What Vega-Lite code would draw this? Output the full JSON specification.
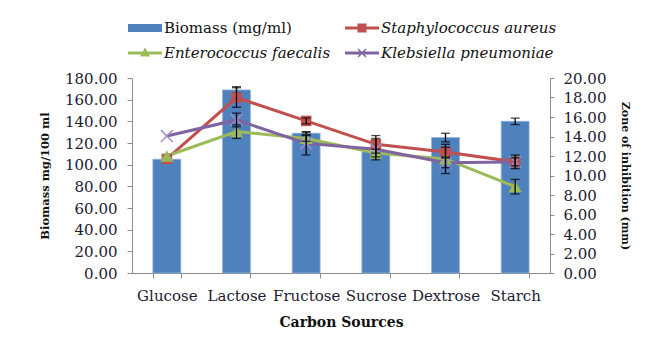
{
  "$schema": "https://vega.github.io/schema/vega-lite/v6.json",
  "width": 418,
  "height": 195,
  "autosize": {"type": "none"},
  "padding": {"left": 132, "top": 78, "right": 107, "bottom": 74},
  "background": "white",
  "config": {
    "view": {"stroke": null},
    "font": "DejaVu Serif",
    "axis": {"labelFont": "DejaVu Serif", "titleFont": "DejaVu Serif", "domainColor": "#8c8c8c", "tickColor": "#8c8c8c", "grid": false, "labelColor": "#1b1b2f", "titleColor": "#111111"}
  },
  "datasets": {
    "bio": [
      {"source": "Glucose", "biomass": 105, "err": 0},
      {"source": "Lactose", "biomass": 169, "err": 3},
      {"source": "Fructose", "biomass": 129, "err": 1},
      {"source": "Sucrose", "biomass": 112, "err": 3},
      {"source": "Dextrose", "biomass": 125, "err": 4},
      {"source": "Starch", "biomass": 140, "err": 3}
    ],
    "zone": [
      {"source": "Glucose", "series": "Staphylococcus aureus", "zone": 11.7, "err": 0},
      {"source": "Lactose", "series": "Staphylococcus aureus", "zone": 18.0, "err": 1.0},
      {"source": "Fructose", "series": "Staphylococcus aureus", "zone": 15.6, "err": 0.3},
      {"source": "Sucrose", "series": "Staphylococcus aureus", "zone": 13.2, "err": 0.9},
      {"source": "Dextrose", "series": "Staphylococcus aureus", "zone": 12.4, "err": 0.5},
      {"source": "Starch", "series": "Staphylococcus aureus", "zone": 11.4, "err": 0.7},
      {"source": "Glucose", "series": "Enterococcus faecalis", "zone": 12.0, "err": 0},
      {"source": "Lactose", "series": "Enterococcus faecalis", "zone": 14.5, "err": 0.7},
      {"source": "Fructose", "series": "Enterococcus faecalis", "zone": 13.8, "err": 0.3},
      {"source": "Sucrose", "series": "Enterococcus faecalis", "zone": 12.3, "err": 0.4},
      {"source": "Dextrose", "series": "Enterococcus faecalis", "zone": 11.7, "err": 1.5},
      {"source": "Starch", "series": "Enterococcus faecalis", "zone": 8.85, "err": 0.75},
      {"source": "Glucose", "series": "Klebsiella pneumoniae", "zone": 14.05, "err": 0},
      {"source": "Lactose", "series": "Klebsiella pneumoniae", "zone": 15.7, "err": 0.7},
      {"source": "Fructose", "series": "Klebsiella pneumoniae", "zone": 13.3, "err": 1.2},
      {"source": "Sucrose", "series": "Klebsiella pneumoniae", "zone": 12.7, "err": 1.1},
      {"source": "Dextrose", "series": "Klebsiella pneumoniae", "zone": 11.3, "err": 0.5},
      {"source": "Starch", "series": "Klebsiella pneumoniae", "zone": 11.4, "err": 0.4}
    ]
  },
  "encoding": {
    "x": {
      "field": "source", "type": "nominal",
      "sort": ["Glucose", "Lactose", "Fructose", "Sucrose", "Dextrose", "Starch"],
      "scale": {"paddingInner": 0.6, "paddingOuter": 0.3},
      "axis": {"title": "Carbon Sources", "labelAngle": 0, "tickBand": "extent", "labelFontSize": 15, "titleFontSize": 14, "titleFontWeight": "bold", "tickSize": 5, "labelPadding": 10, "titlePadding": 12}
    }
  },
  "layer": [
    {
      "data": {"name": "bio"},
      "encoding": {
        "y": {
          "field": "biomass", "type": "quantitative",
          "scale": {"domain": [0, 180]},
          "axis": {"orient": "left", "title": "Biomass mg/100 ml", "values": [0, 20, 40, 60, 80, 100, 120, 140, 160, 180], "format": ".2f", "labelFontSize": 15, "titleFontSize": 11.5, "titleFontWeight": "bold", "tickSize": 5, "labelPadding": 10, "titlePadding": 14}
        }
      },
      "layer": [
        {
          "mark": {"type": "bar", "color": "#4F81BD", "stroke": "#8fb0d8", "strokeWidth": 0.8}
        },
        {
          "transform": [{"filter": "datum.err > 0"}],
          "mark": {"type": "errorbar", "color": "black", "ticks": {"size": 9, "thickness": 1.3}, "rule": {"strokeWidth": 1.3}},
          "encoding": {"yError": {"field": "err"}}
        }
      ]
    },
    {
      "data": {"name": "zone"},
      "encoding": {
        "y": {
          "field": "zone", "type": "quantitative",
          "scale": {"domain": [0, 20]},
          "axis": {"orient": "right", "title": "Zone of inhibition (mm)", "values": [0, 2, 4, 6, 8, 10, 12, 14, 16, 18, 20], "format": ".2f", "labelFontSize": 15, "titleFontSize": 11, "titleFontWeight": "bold", "tickSize": 4, "labelPadding": 9, "titlePadding": 14}
        }
      },
      "layer": [
        {
          "mark": {"type": "line", "strokeWidth": 3},
          "encoding": {
            "color": {
              "field": "series", "type": "nominal",
              "scale": {"domain": ["Biomass (mg/ml)", "Enterococcus faecalis", "Staphylococcus aureus", "Klebsiella pneumoniae"], "range": ["#4F81BD", "#9BBB59", "#C0504D", "#8064A2"]},
              "legend": {
                "orient": "none", "legendX": 3, "legendY": -60, "columns": 2, "title": null,
                "symbolSize": 400, "symbolStrokeWidth": 0,
                "labelFont": "DejaVu Serif", "labelFontSize": 15, "labelColor": "#111111", "labelOffset": 9, "labelLimit": 300,
                "rowPadding": 7, "columnPadding": 14, "padding": 0,
                "encode": {
                  "symbols": {"update": {
                    "shape": {"signal": "datum.value === 'Biomass (mg/ml)' ? 'M-1.7,-0.4H1.7V0.4H-1.7Z' : datum.value === 'Staphylococcus aureus' ? 'M-1.7,-0.15H1.7V0.15H-1.7Z M-0.45,-0.45H0.45V0.45H-0.45Z' : datum.value === 'Enterococcus faecalis' ? 'M-1.7,-0.15H1.7V0.15H-1.7Z M0,-0.55L0.5,0.35H-0.5Z' : 'M-1.7,-0.15H1.7V0.15H-1.7Z M-0.45,-0.35L-0.35,-0.45L0,-0.1L0.35,-0.45L0.45,-0.35L0.1,0L0.45,0.35L0.35,0.45L0,0.1L-0.35,0.45L-0.45,0.35L-0.1,0Z'"},
                    "fill": {"scale": "color", "field": "value"},
                    "stroke": {"value": "transparent"},
                    "opacity": {"value": 1}
                  }},
                  "labels": {"update": {
                    "fontStyle": {"signal": "datum.value === 'Biomass (mg/ml)' ? 'normal' : 'italic'"}
                  }}
                }
              }
            }
          }
        },
        {
          "transform": [{"filter": "datum.series !== 'Klebsiella pneumoniae'"}],
          "mark": {"type": "point", "filled": true, "opacity": 1},
          "encoding": {
            "fill": {
              "field": "series", "type": "nominal",
              "scale": {"domain": ["Staphylococcus aureus", "Enterococcus faecalis"], "range": ["#C0504D", "#9BBB59"]},
              "legend": null
            },
            "shape": {
              "field": "series", "type": "nominal",
              "scale": {"domain": ["Staphylococcus aureus", "Enterococcus faecalis"], "range": ["square", "triangle-up"]},
              "legend": null
            },
            "size": {
              "field": "series", "type": "nominal",
              "scale": {"domain": ["Staphylococcus aureus", "Enterococcus faecalis"], "range": [110, 170]},
              "legend": null
            }
          }
        },
        {
          "transform": [{"filter": "datum.series === 'Klebsiella pneumoniae'"}],
          "mark": {"type": "point", "filled": false, "shape": "M-1,-1L1,1M-1,1L1,-1", "size": 140, "strokeWidth": 1.5, "color": "#a08fcb", "opacity": 1}
        },
        {
          "transform": [{"filter": "datum.err > 0"}],
          "mark": {"type": "errorbar", "color": "black", "ticks": {"size": 9, "thickness": 1.3}, "rule": {"strokeWidth": 1.3}},
          "encoding": {"yError": {"field": "err"}}
        }
      ]
    }
  ],
  "resolve": {"scale": {"y": "independent"}}
}
